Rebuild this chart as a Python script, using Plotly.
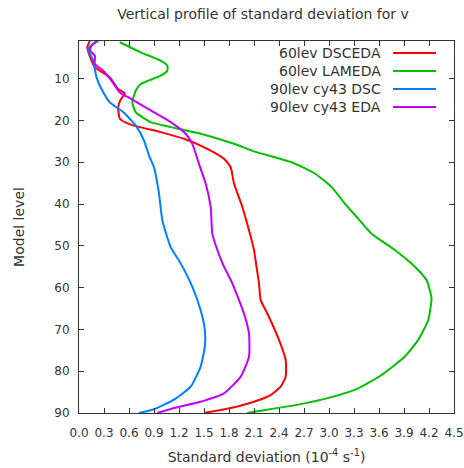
import plotly.graph_objects as go

# 60lev DSCEDA (red)
red_lev = [1, 2.5, 5.7, 7.3, 9.7, 12.5, 13.5, 15, 16.8, 19.6, 21, 22.8, 24.4, 26.8, 29.2, 31.2, 35.1, 40.7, 46.3, 51, 55, 59, 63, 66.2, 72.5, 77.3, 81.3, 83.7, 85.7, 87.3, 88.8, 90]
red_val = [.13, .10, .15, .19, .37, .47, .55, .50, .47, .49, .62, .98, 1.26, 1.54, 1.74, 1.82, 1.86, 1.96, 2.04, 2.10, 2.13, 2.16, 2.18, 2.26, 2.40, 2.48, 2.48, 2.42, 2.30, 2.10, 1.82, 1.50]

# 60lev LAMEDA (green)
green_lev = [1.3, 3.7, 5.7, 6.9, 8.1, 9.3, 11.3, 12.9, 15.7, 18, 20.4, 21.6, 23.2, 25.6, 27.4, 30, 32.7, 35.9, 39.9, 43.5, 47.1, 51, 55, 58.2, 62.5, 67.8, 72.5, 76.5, 80.9, 84.1, 86.2, 88, 89.6, 90]
green_val = [.49, .74, .98, 1.06, 1.06, .98, .74, .68, .64, .68, .86, 1.10, 1.46, 1.86, 2.10, 2.55, 2.83, 3.03, 3.19, 3.35, 3.51, 3.79, 4.03, 4.17, 4.23, 4.19, 4.07, 3.91, 3.63, 3.35, 3.03, 2.63, 2.14, 2.02]

# 90lev cy43 DSC (blue)
blue_lev = [1, 2.9, 5.7, 9.7, 12.5, 15.7, 18, 21.2, 24.8, 28.4, 31.2, 37.5, 43.9, 50.3, 54.2, 59.8, 65.4, 70.1, 74.1, 78.9, 83.7, 86.8, 89.1, 90]
blue_val = [.21, .11, .17, .21, .27, .37, .53, .68, .78, .84, .90, .96, 1.00, 1.10, 1.22, 1.36, 1.46, 1.51, 1.51, 1.46, 1.34, 1.14, .90, .72]

# 90lev cy43 EDA (purple)
purple_lev = [1, 2.1, 3.3, 4.5, 6.5, 8.1, 10.5, 13.3, 14.8, 17.6, 20.4, 23.2, 25.6, 30.4, 35.1, 40.7, 47.1, 51, 55, 59, 63, 66.2, 71, 76.5, 81.3, 85.3, 87.3, 88.8, 90]
purple_val = [.23, .15, .13, .19, .19, .29, .39, .49, .62, .86, 1.10, 1.28, 1.36, 1.44, 1.52, 1.58, 1.60, 1.66, 1.74, 1.84, 1.92, 1.98, 2.04, 2.04, 1.94, 1.74, 1.46, 1.14, .94]

names = ["60lev DSCEDA", "60lev LAMEDA", "90lev cy43 DSC", "90lev cy43 EDA"]
colors = ["#ff0000", "#00c000", "#0080ff", "#c000ff"]
series = [(red_val, red_lev), (green_val, green_lev), (blue_val, blue_lev), (purple_val, purple_lev)]

x_ticks = [round(0.3 * i, 1) for i in range(16)]
y_ticks = [10, 20, 30, 40, 50, 60, 70, 80, 90]

FONT = "DejaVu Sans"
L, R, T, B = 79, 10, 41, 55
W, H = 464, 468
pw, ph = W - L - R, H - T - B

fig = go.Figure()
for (xv, yv), nm, c in zip(series, names, colors):
    fig.add_trace(go.Scatter(x=xv, y=yv, mode="lines", name=nm,
                             line=dict(color=c, width=2, shape="spline", smoothing=0.5),
                             showlegend=False, cliponaxis=True))

# custom gnuplot-style legend (text left, line sample right)
leg_px_y = [53, 71, 89, 107]
for nm, c, py in zip(names, colors, leg_px_y):
    yy = 1 - (py - T) / ph
    fig.add_annotation(x=(383 - L) / pw, y=yy, xref="paper", yref="paper", text=nm,
                       showarrow=False, xanchor="right", yanchor="middle",
                       font=dict(family=FONT, size=14, color="#333333"))
    fig.add_shape(type="line", xref="paper", yref="paper", x0=(393 - L) / pw, x1=(436 - L) / pw,
                  y0=yy, y1=yy, line=dict(color=c, width=2))

fig.update_layout(
    width=W, height=H,
    margin=dict(l=L, r=R, t=T, b=B, autoexpand=False),
    paper_bgcolor="white", plot_bgcolor="white",
    font=dict(family=FONT, size=12, color="#333333"),
    title=dict(text="Vertical profile of standard deviation for v", x=263 / W, xanchor="center",
               xref="container", y=1 - 14 / H, yanchor="middle",
               font=dict(family=FONT, size=14, color="#333333")),
    showlegend=False,
)
fig.update_xaxes(range=[0, 4.5], tickvals=x_ticks, ticktext=[f"{v:.1f}" for v in x_ticks],
                 ticks="inside", ticklen=5, tickcolor="#333333", mirror="ticks", automargin=False,
                 showline=True, linecolor="#333333", linewidth=1, showgrid=False, zeroline=False,
                 tickfont=dict(family=FONT, size=12), ticklabelstandoff=9,
                 title=dict(text="Standard deviation (10<sup>-4</sup> s<sup>-1</sup>)", standoff=12,
                            font=dict(family=FONT, size=14)))
fig.update_yaxes(range=[90, 1], tickvals=y_ticks, automargin=False,
                 ticks="inside", ticklen=5, tickcolor="#333333", mirror="ticks",
                 showline=True, linecolor="#333333", linewidth=1, showgrid=False, zeroline=False,
                 tickfont=dict(family=FONT, size=12), ticklabelstandoff=6,
                 title=dict(text="Model level", standoff=26, font=dict(family=FONT, size=14)))

fig.write_html("out.html")
